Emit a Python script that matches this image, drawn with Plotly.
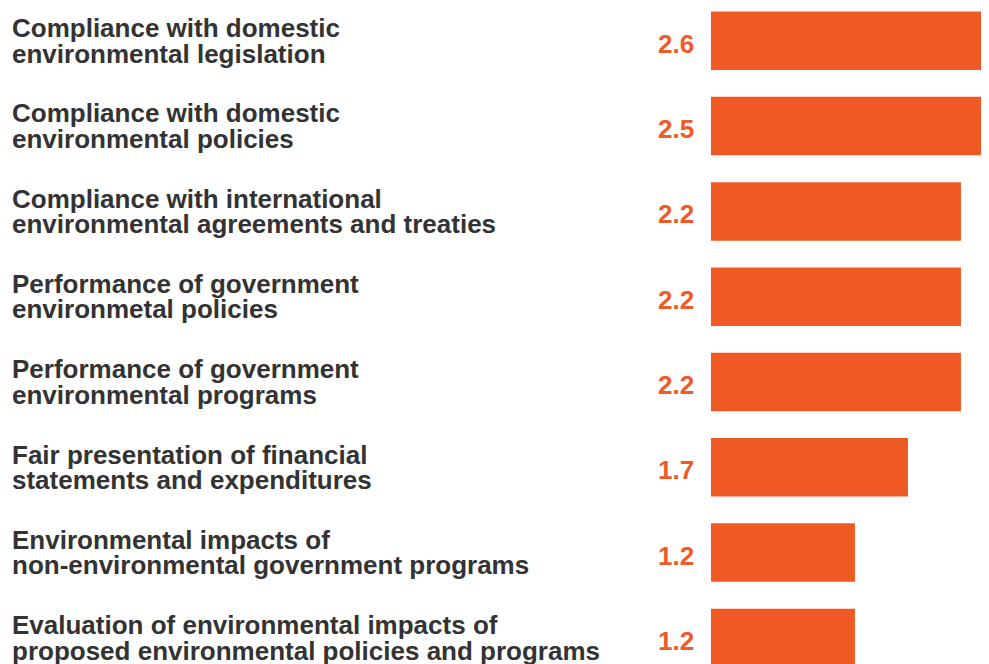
import plotly.graph_objects as go

labels = [
    "Compliance with domestic<br>environmental legislation",
    "Compliance with domestic<br>environmental policies",
    "Compliance with international<br>environmental agreements and treaties",
    "Performance of government<br>environmetal policies",
    "Performance of government<br>environmental programs",
    "Fair presentation of financial<br>statements and expenditures",
    "Environmental impacts of<br>non-environmental government programs",
    "Evaluation of environmental impacts of<br>proposed environmental policies and programs",
]
values = [2.6, 2.5, 2.2, 2.2, 2.2, 1.7, 1.2, 1.2]

BAR_COLOR = "#EF5A24"
TEXT_COLOR = "#333333"
FONT = "Liberation Sans, Arial, sans-serif"

# page body has an 8px margin, so the figure is offset by that much
W, H = 981, 656
PX_PER_ROW = 85.3
FIRST_ROW_Y = 32.8  # centre of first bar, px from top of figure

# bars start a little left of zero in the original artwork
BAR_BASE = -0.158

fig = go.Figure()
fig.add_trace(
    go.Bar(
        y=labels,
        x=[v - BAR_BASE for v in values],
        base=BAR_BASE,
        orientation="h",
        width=0.686,
        marker={"color": BAR_COLOR, "line": {"width": 0}},
        customdata=values,
        hovertemplate="%{customdata}<extra></extra>",
    )
)

for lab, val in zip(labels, values):
    for i, line in enumerate(lab.split("<br>")):
        fig.add_annotation(
            xref="paper",
            yref="y",
            x=2 / W,
            y=lab,
            xanchor="left",
            yanchor="middle",
            yshift=12.75 - 25.5 * i,
            text=line,
            showarrow=False,
            font={"family": FONT, "size": 26, "color": TEXT_COLOR, "weight": "bold"},
        )
    fig.add_annotation(
        xref="x",
        yref="y",
        x=BAR_BASE,
        y=lab,
        xanchor="right",
        yanchor="middle",
        xshift=-15,
        yshift=-3,
        text=f"{val:.1f}",
        showarrow=False,
        font={"family": FONT, "size": 26, "color": "#F05A28", "weight": "bold"},
    )

fig.update_layout(
    width=W,
    height=H,
    margin={"l": 0, "r": 0, "t": 0, "b": 0},
    plot_bgcolor="white",
    paper_bgcolor="white",
    showlegend=False,
    xaxis={
        "domain": [703 / W, 1],
        "range": [BAR_BASE, BAR_BASE + 278 / 106],
        "visible": False,
    },
    yaxis={
        "type": "category",
        "range": [(H - FIRST_ROW_Y) / PX_PER_ROW, -FIRST_ROW_Y / PX_PER_ROW],
        "visible": False,
    },
)

fig.write_html("out.html")
